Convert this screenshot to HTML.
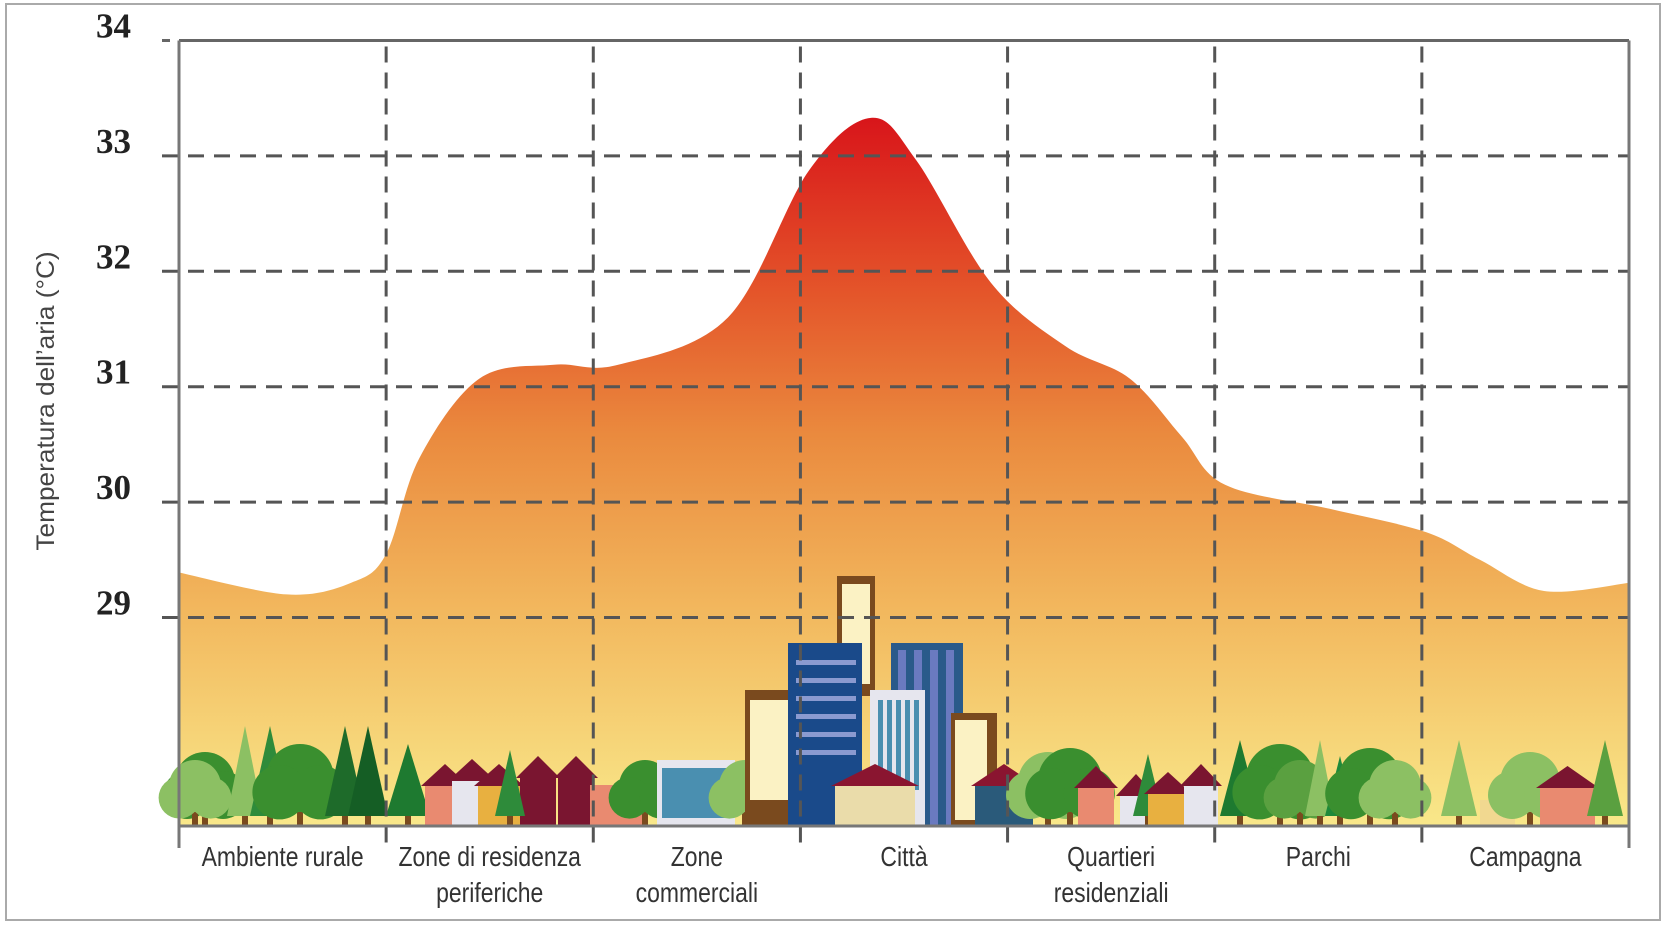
<!DOCTYPE html>
<html><head><meta charset="utf-8"><style>
html,body{margin:0;padding:0;background:#fff;}
svg{display:block;}
</style></head><body>
<svg id="chart" width="1669" height="926" viewBox="0 0 1669 926" xmlns="http://www.w3.org/2000/svg">
<defs>
<linearGradient id="heat" x1="0" y1="115" x2="0" y2="826" gradientUnits="userSpaceOnUse">
<stop offset="0" stop-color="#d8141a"/>
<stop offset="0.25" stop-color="#e4552a"/>
<stop offset="0.45" stop-color="#ea8a3e"/>
<stop offset="0.7" stop-color="#f2b85e"/>
<stop offset="1" stop-color="#f9e88a"/>
</linearGradient>
</defs>
<rect x="6" y="4" width="1654" height="916" fill="#fff" stroke="#aaa" stroke-width="2"/>
<g id="area"></g>
<g id="scene"></g>
<g id="grid"></g>
<g id="labels"></g>
<text transform="translate(54,401) rotate(-90) scale(1.05,1)" text-anchor="middle" font-family="Liberation Sans, sans-serif" font-size="25" fill="#444">Temperatura dell’aria (°C)</text>
</svg>
<script>
const categories = [["Ambiente rurale"],["Zone di residenza","periferiche"],["Zone","commerciali"],["Città"],["Quartieri","residenziali"],["Parchi"],["Campagna"]];
const yTicks = [29,30,31,32,33,34];
const profileX = [0,0.52,0.83,1.0,1.16,1.45,1.81,2.12,2.65,3.04,3.34,3.56,3.92,4.28,4.59,4.84,5.05,5.56,6.02,6.28,6.59,7.0];
const profileT = [29.39,29.2,29.3,29.55,30.38,31.07,31.19,31.19,31.6,32.87,33.33,32.96,31.9,31.35,31.07,30.57,30.15,29.94,29.74,29.5,29.23,29.3];

const L=179,R=1629,T=40.5,B=826;
const ns="http://www.w3.org/2000/svg";
function xs(c){return L+(R-L)*c/categories.length;}
function ys(t){return 617.5-(t-29)*115.4;}
function mk(tag,attrs,parent){const e=document.createElementNS(ns,tag);for(const k in attrs)e.setAttribute(k,attrs[k]);parent.appendChild(e);return e;}

// area
const area=document.getElementById('area');
let pts=profileX.map((c,i)=>[xs(c),ys(profileT[i])]);
let d="M"+xs(0)+","+B+" L"+pts[0][0]+","+pts[0][1];
for(let i=0;i<pts.length-1;i++){
  const p0=pts[Math.max(0,i-1)],p1=pts[i],p2=pts[i+1],p3=pts[Math.min(pts.length-1,i+2)];
  const c1=[p1[0]+(p2[0]-p0[0])/6,p1[1]+(p2[1]-p0[1])/6],c2=[p2[0]-(p3[0]-p1[0])/6,p2[1]-(p3[1]-p1[1])/6];
  d+=" C"+c1[0]+","+c1[1]+" "+c2[0]+","+c2[1]+" "+p2[0]+","+p2[1];
}
d+=" L"+xs(categories.length)+","+B+" Z";
const ap=mk('path',{d:d,fill:'url(#heat)'},area);



// scene (decorative)
const sc=document.getElementById('scene');
function rect(x,y,w,h,f){mk('rect',{x:x,y:y,width:w,height:h,fill:f},sc);}
function tree(x,h,f,w){mk('rect',{x:x-3,y:B-14,width:6,height:14,fill:'#7a4a1e'},sc);mk('polygon',{points:(x-w/2)+","+(B-10)+" "+x+","+(B-h)+" "+(x+w/2)+","+(B-10),fill:f},sc);}
function bush(x,r,f){mk('rect',{x:x-3,y:B-14,width:6,height:14,fill:'#7a4a1e'},sc);mk('circle',{cx:x,cy:B-14-r,r:r,fill:f},sc);mk('circle',{cx:x-r*0.6,cy:B-10-r*0.7,r:r*0.8,fill:f},sc);mk('circle',{cx:x+r*0.6,cy:B-10-r*0.7,r:r*0.8,fill:f},sc);}
function house(x,w,h,f,roof){rect(x,B-h,w,h,f);mk('polygon',{points:(x-4)+","+(B-h)+" "+(x+w/2)+","+(B-h-22)+" "+(x+w+4)+","+(B-h),fill:roof},sc);}
bush(205,30,'#3a8f2f');tree(245,100,'#8cc063',36);tree(270,100,'#2e8b3a',40);bush(300,34,'#3a8f2f');tree(345,100,'#1e6b2a',40);tree(368,100,'#155e25',40);bush(195,26,'#8cc063');
tree(408,82,'#1e7a30',44);house(425,40,40,'#e98a70','#7a1530');house(452,40,45,'#e6e6ee','#7a1530');house(478,42,40,'#e8b040','#7a1530');house(520,36,48,'#7a1530','#7a1530');house(558,36,48,'#7a1530','#7a1530');tree(510,76,'#2e8b3a',30);
rect(590,785,55,41,'#e98a70');
bush(645,26,'#3a8f2f');rect(657,760,78,66,'#e6e6ee');rect(662,768,68,50,'#4a8fb0');bush(745,26,'#8cc063');
rect(745,690,54,136,'#7a4a1e');rect(750,700,40,100,'#fbf2c4');
rect(837,576,38,120,'#7a4a1e');rect(842,584,28,100,'#fbf2c4');
rect(788,643,74,183,'#1a4a8a');for(let i=0;i<6;i++)rect(796,660+i*18,60,5,'#8a9ad0');
rect(891,643,72,183,'#2a5a8a');for(let i=0;i<4;i++)rect(898+i*16,650,8,176,'#6a7ac0');
rect(870,690,55,136,'#e6e6ee');for(let i=0;i<5;i++)rect(878+i*9,700,5,90,'#4a8fb0');
rect(951,713,46,113,'#7a4a1e');rect(955,720,32,100,'#fbf2c4');
house(835,80,40,'#eadcaa','#8a1530');house(975,58,40,'#2a5a7a','#8a1530');
bush(1048,30,'#8cc063');bush(1070,32,'#3a8f2f');house(1078,36,38,'#e98a70','#7a1530');house(1120,32,30,'#e6e6ee','#7a1530');tree(1148,72,'#2e8b3a',30);house(1148,40,32,'#e8b040','#7a1530');house(1184,34,40,'#e6e6ee','#7a1530');
tree(1240,86,'#1e7a30',40);bush(1280,34,'#3a8f2f');bush(1300,26,'#5aa040');tree(1320,86,'#8cc063',30);tree(1340,70,'#1e8a3a',30);bush(1370,32,'#3a8f2f');bush(1395,26,'#8cc063');
tree(1459,86,'#8cc063',36);rect(1480,800,35,26,'#f1d890');bush(1530,30,'#8cc063');house(1540,55,38,'#e98a70','#7a1530');tree(1605,86,'#5aa040',36);

// grid
const g=document.getElementById('grid');
yTicks.forEach(t=>{
  if(t===34){const l=mk('line',{x1:162,y1:ys(t),x2:R,y2:ys(t),stroke:'#666','stroke-width':3},g);mk('line',{x1:162,y1:ys(t),x2:L,y2:ys(t),stroke:'#fff','stroke-width':3},g);mk('line',{x1:162,y1:ys(t),x2:170,y2:ys(t),stroke:'#666','stroke-width':3},g);}
  else{const l=mk('line',{x1:162,y1:ys(t),x2:R,y2:ys(t),stroke:'#555','stroke-width':3,'stroke-dasharray':'16 10'},g);}
});
for(let i=1;i<categories.length;i++){
  const l=mk('line',{x1:xs(i),y1:T+6,x2:xs(i),y2:B+22,stroke:'#555','stroke-width':3,'stroke-dasharray':'16 10'},g);
  
  
}
mk('line',{x1:L,y1:T,x2:L,y2:B+22,stroke:'#777','stroke-width':3},g);
mk('line',{x1:R,y1:T,x2:R,y2:B+22,stroke:'#777','stroke-width':3},g);
const xa=mk('line',{x1:L,y1:B,x2:R,y2:B,stroke:'#777','stroke-width':3},g);



// labels
const lb=document.getElementById('labels');
yTicks.forEach(t=>{
  const e=mk('text',{x:96,y:ys(t)-3,'font-family':'Liberation Serif, serif','font-weight':'bold','font-size':35,fill:'#222'},lb);
  e.textContent=t;
  
  
});
categories.forEach((lines,i)=>{
  const cx=(xs(i)+xs(i+1))/2;
  lines.forEach((s,j)=>{
    const e=mk('text',{transform:'translate('+cx+','+(866+j*36)+') scale(0.82,1)','text-anchor':'middle','font-family':'Liberation Sans, sans-serif','font-size':28,fill:'#333'},lb);
    e.textContent=s;
    
    
  });
});
</script>
</body></html>
